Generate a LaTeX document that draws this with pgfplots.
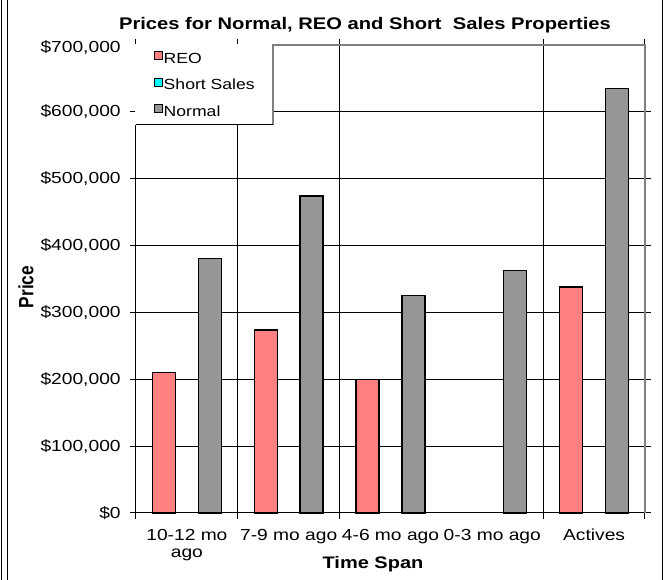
\documentclass[border=0pt]{standalone}
\usepackage{fontspec}
\setmainfont{Liberation Sans}[FakeStretch=1.2]
\newfontfamily\plainsans{Liberation Sans}
\usepackage{graphicx}
\usepackage{pgfplots}
\pgfplotsset{compat=1.18}
\definecolor{reo}{HTML}{FF8080}
\definecolor{normal}{HTML}{969696}
\definecolor{shortc}{HTML}{00FFFF}
\definecolor{bordergray}{HTML}{808080}
\newcommand\topticklabel{\$700,000}
\pgfplotsset{sq legend/.style={legend image code/.code={\draw[##1,draw=black,line width=0.6pt] (0pt,-0.5pt) rectangle (6pt,5.5pt);}}}
\begin{document}
\begin{tikzpicture}
\begin{axis}[
  name=ax, at={(0,0)}, anchor=south west,
  scale only axis, width=381.75pt, height=351pt,
  xmin=-0.5, xmax=4.5, ymin=0, ymax=700000,
  clip=false,
  axis line style={draw=none},
  tick align=outside,
  major tick length=4.5pt,
  tick style={black, line width=0.75pt},
  grid style={black, line width=0.75pt},
  xtick={-0.5,0.5,1.5,3.5,4.5}, xticklabels={},
  xmajorgrids,
  extra x ticks={0,1,2,3,4},
  extra x tick labels={{10-12 mo\\ago},{7-9 mo ago},{4-6 mo ago},{0-3 mo ago},{Actives}},
  extra x tick style={grid=none, tick style={draw=none}},
  xticklabel style={align=center, font=\fontsize{12}{12.75}\selectfont, inner sep=0pt, yshift=-7.5pt},
  ytick={0,100000,200000,300000,400000,500000,600000},
  yticklabels={{\$0},{\$100,000},{\$200,000},{\$300,000},{\$400,000},{\$500,000},{\$600,000}},
  extra y ticks={700000}, extra y tick labels={\topticklabel},
  extra y tick style={grid=none, tick style={draw=none}, yticklabel style={yshift=-2pt}},
  ymajorgrids,
  scaled y ticks=false,
  yticklabel style={font=\fontsize{12}{14}\selectfont, xshift=-3.5pt},
  legend style={at={(0,1)}, anchor=north west, draw=none, fill=none,
    inner xsep=13.5pt, inner ysep=4.6pt, row sep=8.3pt,
    font=\fontsize{11}{13}\selectfont, nodes={inner xsep=0.5pt, inner ysep=1pt}},
  legend cell align=left,
]
\addplot[ybar, bar width=0.225, bar shift=-0.225, fill=reo, draw=black, line width=1.1pt, sq legend]
  coordinates {(0,210000) (1,274000) (2,200000) (4,338000)};
\addlegendentry{REO}
\addlegendimage{fill=shortc, draw=black, sq legend}
\addlegendentry{Short Sales}
\addplot[ybar, bar width=0.225, bar shift=0.225, fill=normal, draw=black, line width=1.1pt, sq legend]
  coordinates {(0,381000) (1,474000) (2,325000) (3,363000) (4,635000)};
\addlegendentry{Normal}
\fill[white] (rel axis cs:0,1) ++(-0.4pt,0.6pt) rectangle ++(103.15pt,-60.6pt);
\end{axis}
% plot area border
\draw[black, line width=0.75pt] (0pt,291pt) -- (0pt,0pt) -- (381.75pt,0pt);
\draw[bordergray, line width=1pt] (102.75pt,291pt) -- (102.75pt,351pt) -- (381.75pt,351pt) -- (381.75pt,0pt);
\draw[black, line width=0.75pt] (0pt,291pt) -- (102.75pt,291pt);
% titles
\node[font=\bfseries\fontsize{12.6}{15}\selectfont] at (171.75pt,366pt) {Prices for Normal, REO and Short~ Sales Properties};
\node[font=\bfseries\fontsize{12.5}{15}\selectfont] at (177.75pt,-38.5pt) {Time Span};
\node[rotate=90] at (-82.5pt,169.5pt) {\scalebox{1}[1.19]{\plainsans\bfseries\fontsize{13}{15}\selectfont Price}};
% chart frame
\draw[line width=0.75pt] (-100.7pt,-50.25pt) -- (-100.7pt,384.75pt);
\draw[line width=0.75pt] (-96.5pt,-50.25pt) -- (-96.5pt,384.75pt);
\draw[line width=0.75pt] (394.9pt,-50.25pt) -- (394.9pt,384.75pt);
\pgfresetboundingbox
\path[use as bounding box] (-102pt,-50.25pt) rectangle (396pt,384.75pt);
\end{tikzpicture}
\end{document}
